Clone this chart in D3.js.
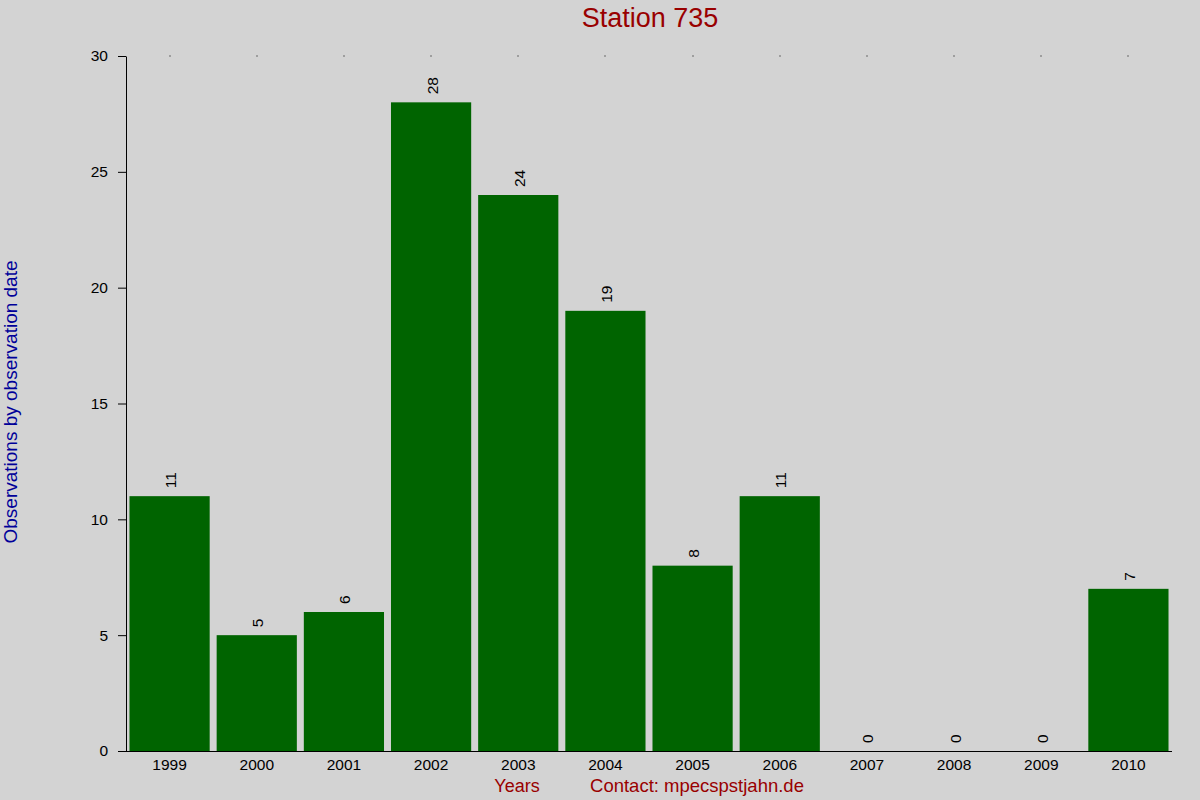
<!DOCTYPE html>
<html>
<head>
<meta charset="utf-8">
<script src="https://cdn.jsdelivr.net/npm/d3@7"></script>
<style>
  body { margin: 0; background: #d3d3d3; }
  svg { display: block; font-family: "Liberation Sans", Arial, sans-serif; }
</style>
</head>
<body>
<div id="chart"></div>
<script>
// data
let years = ["1999", "2000", "2001", "2002", "2003", "2004", "2005", "2006", "2007", "2008", "2009", "2010"];
let counts = [11, 5, 6, 28, 24, 19, 8, 11, 0, 0, 0, 7];
let yTicks = [0, 5, 10, 15, 20, 25, 30];

let svgWidth = 1200;
let svgHeight = 800;
let margin = { top: 56, right: 28, bottom: 49, left: 126 };
let graphWidth = svgWidth - margin.left - margin.right;
let graphHeight = svgHeight - margin.top - margin.bottom;

let svg = d3.select("#chart")
    .append("svg")
    .attr("width", svgWidth)
    .attr("height", svgHeight);

svg.append("rect")
    .attr("width", svgWidth)
    .attr("height", svgHeight)
    .attr("fill", "#d3d3d3");

let g = svg.append("g")
    .attr("transform", "translate(" + margin.left + "," + margin.top + ")");

// scales
let x = d3.scaleBand().domain(years).range([0, graphWidth]).paddingInner(0.08).paddingOuter(0.04);
let y = d3.scaleLinear().domain([0, 30]).range([graphHeight, 0]);

// bars
g.selectAll("rect.bar")
    .data(years)
    .enter()
    .append("rect")
    .attr("class", "bar")
    .attr("x", function(d) { return x(d); })
    .attr("y", function(d, i) { return y(counts[i]); })
    .attr("width", x.bandwidth())
    .attr("height", function(d, i) { return graphHeight - y(counts[i]); })
    .attr("fill", "#006400");

// value labels, rotated
g.selectAll("text.val")
    .data(years)
    .enter()
    .append("text")
    .attr("class", "val")
    .attr("transform", function(d, i) {
        return "translate(" + (x(d) + x.bandwidth() / 2 + 6.5) + "," + (y(counts[i]) - 8) + ") rotate(-90)";
    })
    .attr("text-anchor", "start")
    .attr("font-size", 15.5)
    .attr("fill", "#000")
    .text(function(d, i) { return counts[i]; });

// y axis
let yAxis = d3.axisLeft(y).tickValues(yTicks).tickSize(8).tickSizeOuter(0).tickPadding(10);
let yG = g.append("g").call(yAxis).attr("font-size", 15.5).attr("font-family", null);
yG.select(".domain").attr("stroke", "#000");
yG.selectAll("text").attr("fill", "#000");

// x axis
let xAxis = d3.axisBottom(x).tickSize(0).tickPadding(8);
let xG = g.append("g")
    .attr("transform", "translate(0," + graphHeight + ")")
    .call(xAxis)
    .attr("font-size", 15.5)
    .attr("font-family", null);
xG.select(".domain").attr("d", "M-8,0.5H" + graphWidth);
xG.selectAll("text").attr("fill", "#000");

// tiny tick dots along the top
g.selectAll("rect.topdot")
    .data(years)
    .enter()
    .append("rect")
    .attr("class", "topdot")
    .attr("x", function(d) { return Math.round(x(d) + x.bandwidth() / 2) - 0.5; })
    .attr("y", -0.5)
    .attr("width", 1)
    .attr("height", 1)
    .attr("fill", "#000");

// title
svg.append("text")
    .attr("x", 650)
    .attr("y", 27)
    .attr("text-anchor", "middle")
    .attr("font-size", 27)
    .attr("fill", "#990000")
    .text("Station 735");

// y label
svg.append("text")
    .attr("transform", "translate(17,402) rotate(-90)")
    .attr("text-anchor", "middle")
    .attr("font-size", 19)
    .attr("fill", "#000099")
    .text("Observations by observation date");

// bottom labels
svg.append("text")
    .attr("x", 517)
    .attr("y", 792)
    .attr("text-anchor", "middle")
    .attr("font-size", 18)
    .attr("fill", "#990000")
    .text("Years");

svg.append("text")
    .attr("x", 697)
    .attr("y", 792)
    .attr("text-anchor", "middle")
    .attr("font-size", 18.5)
    .attr("fill", "#990000")
    .text("Contact: mpecspstjahn.de");
</script>
</body>
</html>
